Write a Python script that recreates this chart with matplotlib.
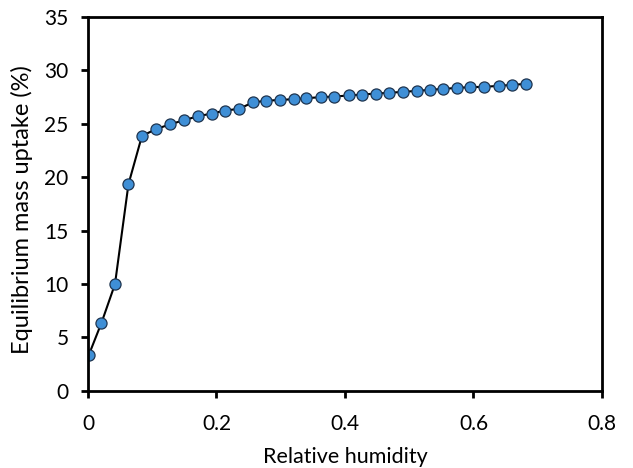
import matplotlib
matplotlib.use("Agg")
import matplotlib.pyplot as plt

# Relative humidity vs equilibrium mass uptake (%)
rh = [0.001, 0.021, 0.042, 0.063, 0.084, 0.106, 0.128, 0.150, 0.171, 0.193,
      0.213, 0.235, 0.257, 0.277, 0.299, 0.320, 0.340, 0.362, 0.383, 0.406,
      0.427, 0.448, 0.469, 0.490, 0.512, 0.533, 0.553, 0.575, 0.595, 0.617,
      0.639, 0.660, 0.682]
uptake = [3.31, 6.36, 9.98, 19.34, 23.86, 24.49, 24.95, 25.33, 25.70, 25.95,
          26.23, 26.39, 27.00, 27.14, 27.23, 27.29, 27.39, 27.48, 27.54, 27.64,
          27.73, 27.82, 27.89, 27.98, 28.07, 28.17, 28.26, 28.35, 28.42, 28.45,
          28.54, 28.63, 28.73]

xticks = [0, 0.2, 0.4, 0.6, 0.8]
xtick_labels = ["0", "0.2", "0.4", "0.6", "0.8"]
yticks = [0, 5, 10, 15, 20, 25, 30, 35]

plt.rcParams["font.family"] = ["Lato", "DejaVu Sans"]

fig = plt.figure(figsize=(6.33, 4.68), dpi=100)
ax = fig.add_axes([0.139, 0.165, 0.812, 0.799])

ax.plot(rh, uptake, color="black", linewidth=1.5, marker="o", markersize=8,
        markerfacecolor="#3f8fd6", markeredgecolor="#1f3550", markeredgewidth=0.9)

ax.set_xlim(0, 0.8)
ax.set_ylim(0, 35)
ax.set_xticks(xticks)
ax.set_xticklabels(xtick_labels)
ax.set_yticks(yticks)

for s in ax.spines.values():
    s.set_linewidth(2)
ax.tick_params(axis="both", direction="out", length=5, width=2, labelsize=15)
ax.tick_params(axis="x", pad=12)
ax.tick_params(axis="y", pad=9)
ax.set_xlabel("Relative humidity", fontsize=15.5, labelpad=9)
ax.set_ylabel("Equilibrium mass uptake (%)", fontsize=17)
ax.yaxis.set_label_coords(-0.107, 0.485)

fig.savefig("out.png", dpi=100)
